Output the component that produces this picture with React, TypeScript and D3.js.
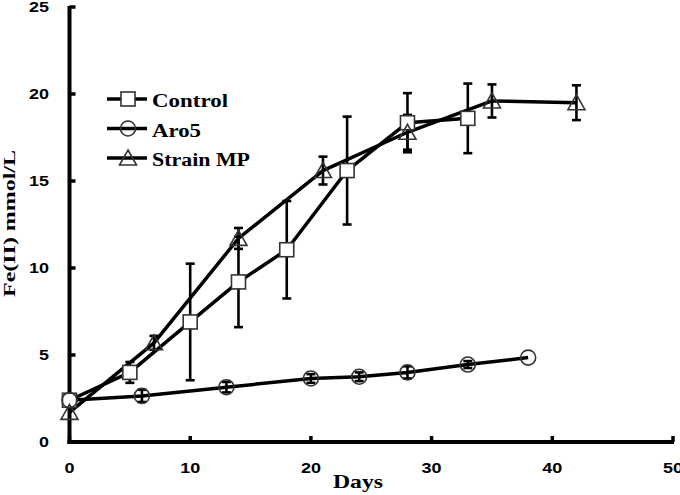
import React from "react";
import * as d3 from "d3";

const controlDays = [0, 5, 10, 14, 18, 23, 28, 33];
const controlVals = [2.4, 4.0, 6.9, 9.2, 11.05, 15.6, 18.35, 18.6];
const controlErr = [0, 0.6, 3.35, 2.6, 2.8, 3.1, 1.7, 2.0];

const aroDays = [0, 6, 13, 20, 24, 28, 33, 38];
const aroVals = [2.4, 2.65, 3.15, 3.65, 3.75, 4.0, 4.45, 4.85];
const aroErr = [0, 0.35, 0.3, 0.25, 0.25, 0.35, 0.2, 0];

const mpDays = [0, 7, 14, 21, 28, 35, 42];
const mpVals = [1.7, 5.7, 11.7, 15.6, 17.8, 19.6, 19.5];
const mpErr = [0, 0.4, 0.6, 0.8, 1.0, 0.95, 1.0];

const xTicks = [0, 10, 20, 30, 40, 50];
const yTicks = [0, 5, 10, 15, 20, 25];
const legendLabels = ["Control", "Aro5", "Strain MP"];
const legendWidths = [76, 49, 98];

const W = 680;
const H = 495;

export default function App() {
  const x = d3.scaleLinear().domain([0, 50]).range([69.5, 673]);
  const y = d3.scaleLinear().domain([0, 25]).range([442, 7]);
  const line = d3
    .line<[number, number]>()
    .x((d) => x(d[0]))
    .y((d) => y(d[1]));

  const series = [
    { days: controlDays, vals: controlVals, err: controlErr, shape: "square" },
    { days: aroDays, vals: aroVals, err: aroErr, shape: "circle" },
    { days: mpDays, vals: mpVals, err: mpErr, shape: "triangle" },
  ];

  const marker = (shape: string, cx: number, cy: number, key: string) => {
    const st = { stroke: "#333", strokeWidth: 1.6 };
    if (shape === "square")
      return <rect key={key} x={cx - 7} y={cy - 7} width={14} height={14} fill="#fff" {...st} />;
    if (shape === "circle")
      return <circle key={key} cx={cx} cy={cy} r={7.5} fill="none" {...st} />;
    return (
      <path
        key={key}
        d={`M${cx},${cy - 8}L${cx + 8.5},${cy + 7}L${cx - 8.5},${cy + 7}Z`}
        fill="none"
        {...st}
      />
    );
  };

  const tickFont = { fontFamily: "Liberation Sans, Arial, sans-serif", fontWeight: 700, fontSize: 14 };
  const serif = { fontFamily: "Liberation Serif, Times New Roman, serif", fontWeight: 700 };

  return (
    <svg width={W} height={H} style={{ position: "absolute", left: 0, top: 0, background: "#fff" }}>
      <rect width={W} height={H} fill="#fff" />
      {/* axes */}
      <line x1={x(0) - 2} x2={x(50) + 1} y1={y(0)} y2={y(0)} stroke="#000" strokeWidth={4} />
      <line x1={x(0)} x2={x(0)} y1={y(0) + 2} y2={y(25) - 1} stroke="#000" strokeWidth={4} />
      {xTicks.map((t) => (
        <g key={"xt" + t}>
          <line x1={x(t)} x2={x(t)} y1={y(0)} y2={y(0) - 6} stroke="#000" strokeWidth={3.5} />
          <text
            x={x(t) - (t === 0 ? 5 : 10)}
            y={473}
            textLength={t === 0 ? 10 : 20}
            lengthAdjust="spacingAndGlyphs"
            {...tickFont}
          >
            {t}
          </text>
        </g>
      ))}
      {yTicks.map((t) => (
        <g key={"yt" + t}>
          <line x1={x(0)} x2={x(0) + 6} y1={y(t)} y2={y(t)} stroke="#000" strokeWidth={3.5} />
          <text
            x={49 - (t < 10 ? 10 : 20)}
            y={y(t) + 5}
            textLength={t < 10 ? 10 : 20}
            lengthAdjust="spacingAndGlyphs"
            {...tickFont}
          >
            {t}
          </text>
        </g>
      ))}
      <text x={333} y={488} textLength={50} lengthAdjust="spacingAndGlyphs" fontSize={19} {...serif}>
        Days
      </text>
      <text
        transform={`translate(15,297) rotate(-90)`}
        textLength={147}
        lengthAdjust="spacingAndGlyphs"
        fontSize={16}
        {...serif}
      >
        Fe(II) mmol/L
      </text>

      {/* lines */}
      {series.map((s, i) => (
        <path
          key={"l" + i}
          d={line(s.days.map((d, j) => [d, s.vals[j]] as [number, number])) || ""}
          fill="none"
          stroke="#000"
          strokeWidth={3.5}
          strokeLinejoin="round"
        />
      ))}
      {/* error bars */}
      {series.map((s, i) =>
        s.days.map((d, j) =>
          s.err[j] > 0 ? (
            <g key={`e${i}-${j}`} stroke="#000" strokeWidth={2.6}>
              <line x1={x(d)} x2={x(d)} y1={y(s.vals[j] - s.err[j])} y2={y(s.vals[j] + s.err[j])} />
              <line x1={x(d) - 4.5} x2={x(d) + 4.5} y1={y(s.vals[j] - s.err[j])} y2={y(s.vals[j] - s.err[j])} />
              <line x1={x(d) - 4.5} x2={x(d) + 4.5} y1={y(s.vals[j] + s.err[j])} y2={y(s.vals[j] + s.err[j])} />
            </g>
          ) : null
        )
      )}
      {/* markers */}
      {series.map((s, i) => s.days.map((d, j) => marker(s.shape, x(d), y(s.vals[j]), `m${i}-${j}`)))}

      {/* legend */}
      {legendLabels.map((lab, i) => {
        const ly = 99 + i * 29.5;
        return (
          <g key={"lg" + i}>
            <line x1={107} x2={147} y1={ly} y2={ly} stroke="#000" strokeWidth={3.5} />
            {marker(series[i].shape, 128, ly, "lm" + i)}
            <text
              x={152}
              y={ly + 8}
              fontSize={18}
              textLength={legendWidths[i]}
              lengthAdjust="spacingAndGlyphs"
              {...serif}
            >
              {lab}
            </text>
          </g>
        );
      })}
    </svg>
  );
}
